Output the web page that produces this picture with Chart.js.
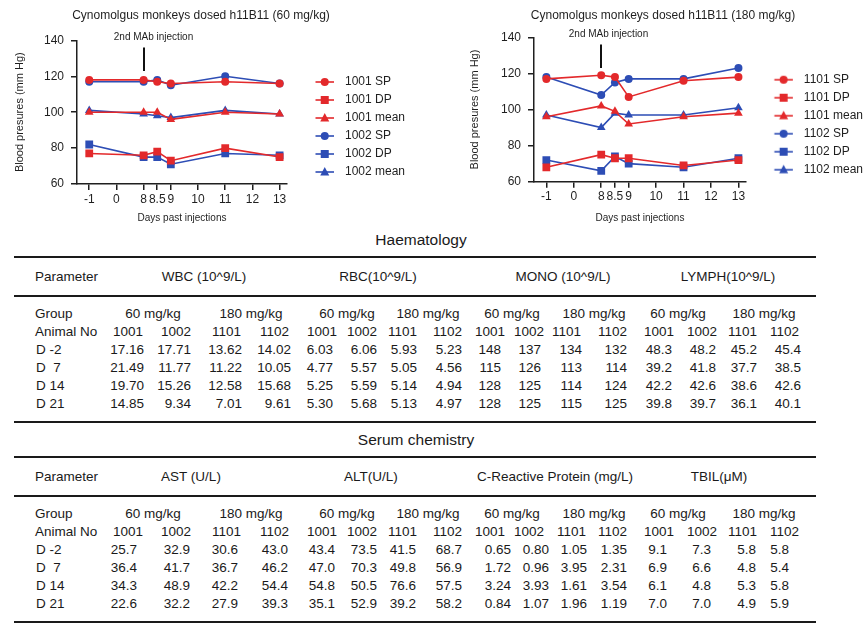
<!DOCTYPE html>
<html>
<head>
<meta charset="utf-8">
<script src="https://cdn.jsdelivr.net/npm/chart.js@4.4.1/dist/chart.umd.min.js"></script>
<style>
  html, body { margin: 0; padding: 0; background: #fff; overflow: hidden; }
  body { width: 868px; height: 624px; position: relative; font-family: "Liberation Sans", Arial, sans-serif; color: #1a1a1a; }
  canvas { position: absolute; top: 0; }
  .t { position: absolute; white-space: pre; line-height: 16px; height: 16px; }
  .rule { position: absolute; background: #1a1a1a; height: 2px; }
</style>
</head>
<body>
<canvas id="c60" width="428" height="228" style="left:-13px"></canvas>
<canvas id="c180" width="420" height="228" style="left:453px"></canvas>
<div id="tables"></div>
<script>
// ---------- chart data ----------
const tickDays = [-1, 0, 8, 8.5, 9, 10, 11, 12, 13];
const sampleDays = [-1, 8, 8.5, 9, 11, 13];
const injectionDay = 8;
const injectionLabel = '2nd MAb injection';
const title60 = 'Cynomolgus monkeys dosed h11B11 (60 mg/kg)';
const title180 = 'Cynomolgus monkeys dosed h11B11 (180 mg/kg)';
const yTitle = 'Blood presures (mm Hg)';
const xTitle = 'Days past injections';

const names60 = ['1001 SP', '1001 DP', '1001 mean', '1002 SP', '1002 DP', '1002 mean'];
const sp1001 = [118, 118, 117, 116, 117, 116];
const dp1001 = [77, 76, 78, 73, 80, 75];
const mean1001 = [100, 100, 100, 96, 100, 99];
const sp1002 = [117, 117, 118, 115, 120, 116];
const dp1002 = [82, 75, 75, 71, 77, 76];
const mean1002 = [101, 99, 98, 97, 101, 99];

const names180 = ['1101 SP', '1101 DP', '1101 mean', '1102 SP', '1102 DP', '1102 mean'];
const sp1101 = [117, 119, 118, 107, 116, 118];
const dp1101 = [68, 75, 73, 73, 69, 72];
const mean1101 = [96, 102, 99, 92, 96, 98];
const sp1102 = [118, 108, 115, 117, 117, 123];
const dp1102 = [72, 66, 74, 70, 68, 73];
const mean1102 = [97, 90, 98, 97, 97, 101];

// ---------- table data ----------
const rowLabels = ['D -2', 'D  7', 'D 14', 'D 21'];
const groupLabels = ['60 mg/kg', '180 mg/kg'];
const animalIds = ['1001', '1002', '1101', '1102'];
const haemParams = ['WBC (10^9/L)', 'RBC(10^9/L)', 'MONO (10^9/L)', 'LYMPH(10^9/L)'];
const wbcValues = [['17.16','17.71','13.62','14.02'],['21.49','11.77','11.22','10.05'],['19.70','15.26','12.58','15.68'],['14.85','9.34','7.01','9.61']];
const rbcValues = [['6.03','6.06','5.93','5.23'],['4.77','5.57','5.05','4.56'],['5.25','5.59','5.14','4.94'],['5.30','5.68','5.13','4.97']];
const monoValues = [['148','137','134','132'],['115','126','113','114'],['128','125','114','124'],['128','125','115','125']];
const lymphValues = [['48.3','48.2','45.2','45.4'],['39.2','41.8','37.7','38.5'],['42.2','42.6','38.6','42.6'],['39.8','39.7','36.1','40.1']];
const serumParams = ['AST (U/L)', 'ALT(U/L)', 'C-Reactive Protein (mg/L)', 'TBIL(\u03bcM)'];
const astValues = [['25.7','32.9','30.6','43.0'],['36.4','41.7','36.7','46.2'],['34.3','48.9','42.2','54.4'],['22.6','32.2','27.9','39.3']];
const altValues = [['43.4','73.5','41.5','68.7'],['47.0','70.3','49.8','56.9'],['54.8','50.5','76.6','57.5'],['35.1','52.9','39.2','58.2']];
const crpValues = [['0.65','0.80','1.05','1.35'],['1.72','0.96','3.95','2.31'],['3.24','3.93','1.61','3.54'],['0.84','1.07','1.96','1.19']];
const tbilValues = [['9.1','7.3','5.8','5.8'],['6.9','6.6','4.8','5.4'],['6.1','4.8','5.3','5.8'],['7.0','7.0','4.9','5.9']];

// ---------- styling ----------
const RED = '#e3292b';
const BLUE = '#2d4db5';
const INK = '#1f1f1f';
const FONT = '"Liberation Sans", Arial, sans-serif';
Chart.defaults.font.family = FONT;
Chart.defaults.color = INK;

// axis break: days 1..7 are collapsed
function breakAxis(day) { return day <= 0 ? day + 1 : day - 6; }

const markerStyles = ['circle', 'rect', 'triangle'];
const markerRadius = { circle: 4, rect: 5.5, triangle: 5 };

function legendIcon(color, style) {
  const c = document.createElement('canvas');
  c.width = 46; c.height = 14;
  const g = c.getContext('2d');
  g.strokeStyle = color; g.lineWidth = 1.6;
  g.beginPath(); g.moveTo(22.5, 7); g.lineTo(41, 7); g.stroke();
  g.fillStyle = color;
  const cx = 31.75, cy = 7;
  if (style === 'circle') { g.beginPath(); g.arc(cx, cy, 4, 0, Math.PI * 2); g.fill(); }
  else if (style === 'rect') { g.fillRect(cx - 4, cy - 4, 8, 8); }
  else { g.beginPath(); g.moveTo(cx, cy - 5); g.lineTo(cx + 4.5, cy + 3.5); g.lineTo(cx - 4.5, cy + 3.5); g.closePath(); g.fill(); }
  return c;
}

const injectionPlugin = {
  id: 'injection',
  afterDraw(chart, args, opts) {
    const { ctx, scales: { x, y } } = chart;
    const px = Math.round(x.getPixelForValue(breakAxis(injectionDay)));
    ctx.save();
    ctx.strokeStyle = '#111'; ctx.lineWidth = 2;
    ctx.beginPath();
    ctx.moveTo(px, y.getPixelForValue(136));
    ctx.lineTo(px, y.getPixelForValue(123));
    ctx.stroke();
    ctx.fillStyle = INK;
    ctx.font = '10px ' + FONT;
    ctx.textAlign = 'center'; ctx.textBaseline = 'middle';
    ctx.fillText(injectionLabel, px + opts.dx, y.getPixelForValue(142));
    ctx.restore();
  }
};

function makeChart(id, title, names, seriesList, cfg) {
  const datasets = seriesList.map((vals, i) => {
    const color = i < 3 ? RED : BLUE;
    const style = markerStyles[i % 3];
    return {
      label: names[i],
      data: vals.map((v, k) => ({ x: breakAxis(sampleDays[k]), y: v })),
      borderColor: color,
      backgroundColor: color,
      pointBackgroundColor: color,
      pointBorderColor: color,
      pointStyle: style,
      pointRadius: markerRadius[style],
      pointBorderWidth: 0,
      borderWidth: 1.6,
      tension: 0,
      _icon: legendIcon(color, style)
    };
  });
  return new Chart(document.getElementById(id), {
    type: 'line',
    data: { datasets },
    plugins: [injectionPlugin],
    options: {
      responsive: false,
      animation: false,
      layout: { padding: 0 },
      plugins: {
        injection: { dx: cfg.dx },
        tooltip: { enabled: false },
        title: {
          display: true, text: title,
          font: { size: 12, weight: 'normal' }, color: INK,
          padding: { top: 8, bottom: cfg.titleBottom }
        },
        legend: {
          position: 'right', align: 'end', fullSize: false, maxWidth: 240,
          labels: {
            usePointStyle: true, pointStyleWidth: 46, boxHeight: 12,
            padding: 6, color: INK, font: { size: 12 },
            generateLabels(chart) {
              const items = Chart.defaults.plugins.legend.labels.generateLabels(chart);
              items.forEach(it => { it.pointStyle = chart.data.datasets[it.datasetIndex]._icon; it.lineWidth = 0; });
              return items;
            }
          }
        }
      },
      scales: {
        x: {
          type: 'linear', min: -0.45, max: 7.27,
          afterBuildTicks(s) { s.ticks = tickDays.map(d => ({ value: breakAxis(d) })); },
          afterFit(s) { s.height = cfg.xHeight; },
          ticks: {
            autoSkip: false, maxRotation: 0, minRotation: 0, padding: 2,
            font: { size: 12 }, color: INK,
            callback: (v, i) => String(tickDays[i])
          },
          grid: { display: true, drawOnChartArea: false, drawTicks: true, tickLength: 6, color: INK, lineWidth: 1.5 },
          border: { display: true, color: INK, width: 1.5 },
          title: { display: true, text: xTitle, font: { size: 10 }, color: INK, padding: { top: 0, bottom: 4 } }
        },
        y: {
          min: 60, max: 140,
          afterFit(s) { s.width = cfg.yWidth; },
          ticks: { stepSize: 20, padding: 7, font: { size: 12 }, color: INK },
          grid: { display: true, drawOnChartArea: false, drawTicks: true, tickLength: 6, color: INK, lineWidth: 1.5 },
          border: { display: true, color: INK, width: 1.5 },
          title: { display: true, text: yTitle, font: { size: 11 }, color: INK, padding: { top: cfg.yTitlePad, bottom: 0 } }
        }
      }
    }
  });
}

makeChart('c60', title60, names60, [sp1001, dp1001, mean1001, sp1002, dp1002, mean1002],
  { yTitlePad: 26.4, yWidth: 90, xHeight: 44, titleBottom: 18, dx: 9.5 });
makeChart('c180', title180, names180, [sp1101, dp1101, mean1101, sp1102, dp1102, mean1102],
  { yTitlePad: 15.4, yWidth: 81, xHeight: 46.3, titleBottom: 15, dx: 7.5 });

// ---------- tables ----------
const host = document.getElementById('tables');
function put(text, x, y, align, size) {
  const d = document.createElement('div');
  d.className = 't';
  d.textContent = text;
  d.style.fontSize = (size || 13.5) + 'px';
  d.style.top = (y - 8) + 'px';
  if (align === 'right') { d.style.left = (x - 200) + 'px'; d.style.width = '200px'; d.style.textAlign = 'right'; }
  else if (align === 'center') { d.style.left = (x - 200) + 'px'; d.style.width = '400px'; d.style.textAlign = 'center'; }
  else { d.style.left = x + 'px'; }
  host.appendChild(d);
}
function rule(y) {
  const d = document.createElement('div');
  d.className = 'rule';
  d.style.top = (y - 1) + 'px'; d.style.left = '14px'; d.style.width = '802px';
  host.appendChild(d);
}

function drawTable(o) {
  const y0 = o.top;
  put(o.title, o.titleX, y0, 'center', 15.5);
  rule(y0 + 17);
  put('Parameter', 35, y0 + 37);
  o.params.forEach((p, i) => put(p, o.headerX[i], y0 + 37, 'center'));
  rule(y0 + 56);
  put('Group', 35, y0 + 74);
  const groupX = [153, 251, 347, 428, 512, 594, 678, 764];
  for (let i = 0; i < 8; i++) put(groupLabels[i % 2], groupX[i], y0 + 74, 'center');
  put('Animal No', 35, y0 + 92);
  for (let i = 0; i < 16; i++) put(animalIds[i % 4], o.animalX[i], y0 + 92, 'right');
  rowLabels.forEach((lab, r) => {
    const y = y0 + 110 + r * 18;
    put(lab, 36, y);
    o.values.forEach((vals, p) => {
      vals[r].forEach((v, k) => put(v, o.dataX[p * 4 + k], y, 'right'));
    });
  });
  rule(y0 + 182);
}

drawTable({
  top: 240, title: 'Haematology', titleX: 421,
  params: haemParams, headerX: [204, 378, 563, 728],
  animalX: [143, 191, 241, 289, 337, 377, 417, 462, 505, 544, 581, 627, 674, 717, 757, 799],
  dataX: [144, 191, 242, 291, 333, 377, 417, 462, 501, 541, 582, 627, 672, 716, 757, 801],
  values: [wbcValues, rbcValues, monoValues, lymphValues]
});
drawTable({
  top: 440, title: 'Serum chemistry', titleX: 416,
  params: serumParams, headerX: [191, 371, 555, 719],
  animalX: [143, 191, 241, 289, 337, 377, 417, 462, 505, 544, 586, 627, 674, 717, 757, 799],
  dataX: [137, 190, 238, 288, 335, 377, 416, 462, 511, 549, 587, 627, 667, 711, 756, 789],
  values: [astValues, altValues, crpValues, tbilValues]
});
</script>
</body>
</html>
